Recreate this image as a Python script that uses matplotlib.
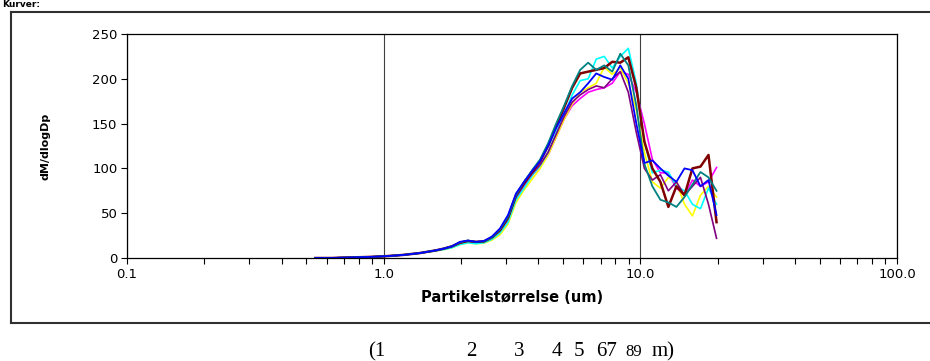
import numpy as np
import matplotlib.pyplot as plt
from matplotlib.lines import Line2D
from matplotlib.ticker import FixedLocator, FixedFormatter, LogLocator, NullFormatter

# Partikkelstørrelse (kanalmidtpunkt, um)
dp = [0.542, 0.583, 0.626, 0.673, 0.723, 0.777, 0.835, 0.898, 0.965, 1.037,
      1.114, 1.197, 1.286, 1.382, 1.486, 1.596, 1.715, 1.843, 1.981, 2.129,
      2.288, 2.458, 2.642, 2.839, 3.051, 3.278, 3.523, 3.786, 4.068, 4.371,
      4.698, 5.048, 5.425, 5.829, 6.264, 6.732, 7.234, 7.774, 8.354, 8.977,
      9.647, 10.37, 11.14, 11.97, 12.86, 13.82, 14.86, 15.96, 17.15, 18.43,
      19.81]

# dM/dlogDp for hver måleserie
magenta = [0, 0, 0, 0.3, 0.5, 0.8, 1.0, 1.3, 1.7, 2.2, 2.8, 3.5, 4.5, 5.5, 7, 8.5, 10, 12, 16, 18,
           17, 17.5, 22, 29, 42, 66, 80, 92, 102, 115, 135, 155, 170, 178, 185, 188, 190, 195,
           208, 205, 185, 150, 110, 95, 95, 78, 70, 87, 80, 85, 101]
yellow = [0, 0, 0, 0.3, 0.5, 0.8, 1.0, 1.3, 1.7, 2.2, 2.8, 3.5, 4.5, 5.5, 6.8, 8, 9.5, 11.5, 15, 17,
          16, 16.5, 20, 26, 38, 62, 76, 88, 100, 115, 135, 155, 172, 185, 190, 195, 213, 205,
          212, 195, 165, 118, 85, 78, 90, 85, 60, 47, 70, 80, 68]
cyan = [0, 0, 0, 0.3, 0.5, 0.8, 1.0, 1.3, 1.7, 2.2, 2.8, 3.5, 4.5, 5.5, 6.8, 8, 9.5, 11.5, 15, 17,
        16, 17, 21, 28, 40, 65, 78, 92, 103, 118, 140, 160, 182, 198, 200, 222, 225, 212,
        225, 234, 195, 130, 95, 98, 96, 80, 75, 60, 55, 78, 60]
purple = [0, 0, 0, 0.3, 0.5, 0.8, 1.0, 1.3, 1.7, 2.2, 2.8, 3.5, 4.5, 5.5, 7, 8.5, 10.5, 13, 17, 19,
          18, 18.5, 23, 31, 44, 68, 82, 94, 104, 118, 138, 158, 174, 182, 188, 192, 190, 200,
          208, 185, 140, 100, 87, 93, 75, 85, 70, 80, 90, 60, 22]
maroon = [0, 0, 0, 0.3, 0.5, 0.8, 1.0, 1.3, 1.7, 2.2, 2.8, 3.5, 4.5, 5.5, 7, 8.5, 10.5, 13, 17, 19,
          18, 18.5, 23, 31, 45, 70, 84, 96, 108, 125, 147, 168, 190, 206, 208, 210, 212, 219,
          218, 224, 190, 130, 100, 85, 57, 80, 70, 100, 102, 115, 40]
teal = [0, 0, 0, 0.3, 0.5, 0.8, 1.0, 1.3, 1.7, 2.2, 2.8, 3.5, 4.5, 5.5, 7, 8.5, 10.5, 13, 17.5, 19.5,
        18, 18.5, 23, 32, 46, 70, 85, 98, 110, 128, 150, 170, 192, 210, 218, 210, 215, 208,
        228, 215, 170, 105, 80, 65, 62, 57, 68, 82, 96, 90, 75]
blue = [0, 0, 0, 0.3, 0.5, 0.8, 1.0, 1.3, 1.7, 2.2, 2.8, 3.5, 4.5, 5.5, 7, 8.5, 10.5, 13, 18, 19.5,
        18, 19, 24, 33, 48, 72, 85, 97, 108, 125, 145, 162, 178, 185, 195, 206, 202, 199,
        215, 200, 150, 106, 109, 100, 92, 85, 100, 98, 80, 87, 48]

serier = [
    (magenta, "#FF00FF", 1.2),
    (yellow, "#FFFF00", 1.2),
    (cyan, "#00FFFF", 1.2),
    (purple, "#800080", 1.2),
    (maroon, "#800000", 1.8),
    (teal, "#008080", 1.3),
    (blue, "#0000FF", 1.3),
]

plt.rcParams['font.family'] = ['DejaVu Sans']

fig = plt.figure(figsize=(9.3, 3.61), dpi=100)
ax = fig.add_axes([0.1366, 0.2853, 0.8279, 0.6205])

for y, farge, lw in serier:
    ax.plot(dp, y, color=farge, lw=lw)

ax.set_xscale('log')
ax.set_xlim(0.1, 100)
ax.set_ylim(0, 250)
ax.xaxis.set_major_locator(FixedLocator([0.1, 1, 10, 100]))
ax.xaxis.set_major_formatter(FixedFormatter(['0.1', '1.0', '10.0', '100.0']))
ax.xaxis.set_minor_locator(LogLocator(base=10, subs=np.arange(2, 10), numticks=20))
ax.xaxis.set_minor_formatter(NullFormatter())
ax.set_yticks([0, 50, 100, 150, 200, 250])

ax.tick_params(axis='both', which='major', direction='out', length=4, width=0.8,
               labelsize=9.5, pad=3)
ax.tick_params(axis='x', which='minor', direction='out', length=4, width=0.8)
ax.grid(True, axis='x', which='major', color='#404040', lw=0.8)

for s in ax.spines.values():
    s.set_linewidth(0.9)

ax.set_xlabel("Partikelstørrelse (um)", fontsize=10.5, fontweight='bold', labelpad=7)
ax.set_ylabel("dM/dlogDp", fontsize=8, fontweight='bold', labelpad=30)

# ramme rundt diagrammet
ramme = dict(color='#303030', lw=1.5, transform=fig.transFigure, clip_on=False)
fig.add_artist(Line2D([11 / 930, 11 / 930], [1 - 12 / 361, 1 - 323 / 361], **ramme))
fig.add_artist(Line2D([11 / 930, 1.0], [1 - 12 / 361, 1 - 12 / 361], **ramme))
fig.add_artist(Line2D([11 / 930, 1.0], [1 - 323 / 361, 1 - 323 / 361], **ramme))

# overskrift øverst (delvis skjult i originalen)
fig.text(0.002, 0.999, "Kurver:", fontsize=6.5, fontweight='bold', va='top', ha='left')

# tekst under diagrammet
serif = dict(family='Liberation Serif', va='baseline')
yb = 1 - 356 / 361
fig.text(368 / 930, yb, "(1", fontsize=15, **serif)
fig.text(466 / 930, yb, "2", fontsize=15, **serif)
fig.text(514 / 930, yb, "3", fontsize=15, **serif)
fig.text(552 / 930, yb, "4", fontsize=15, **serif)
fig.text(574 / 930, yb, "5", fontsize=15, **serif)
fig.text(596 / 930, yb, "67", fontsize=15, **serif)
fig.text(625 / 930, yb, "89", fontsize=12, **serif)
fig.text(652 / 930, yb, "m)", fontsize=15, **serif)

fig.savefig("out.png", dpi=100)
